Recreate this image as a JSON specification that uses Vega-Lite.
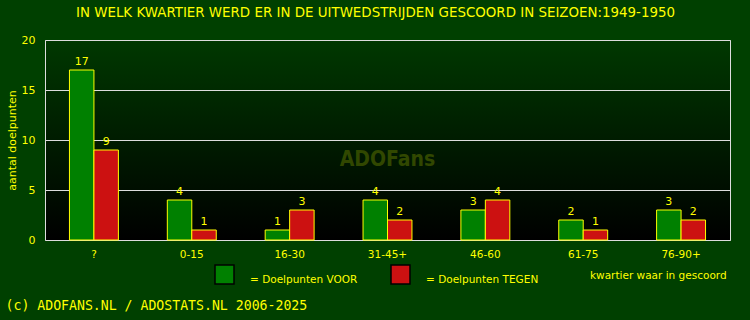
{
  "$schema": "https://vega.github.io/schema/vega-lite/v6.json",
  "width": 685,
  "height": 200,
  "autosize": {"type": "none"},
  "padding": {"left": 45, "top": 40, "right": 20, "bottom": 80},
  "background": "#004000",
  "title": {
    "text": "IN WELK KWARTIER WERD ER IN DE UITWEDSTRIJDEN GESCOORD IN SEIZOEN:1949-1950",
    "color": "#ffff00",
    "font": "DejaVu Sans",
    "fontSize": 13.4,
    "fontWeight": "normal",
    "anchor": "middle",
    "dx": -12,
    "offset": 15
  },
  "config": {
    "font": "DejaVu Sans",
    "view": {
      "stroke": "#dddddd",
      "strokeWidth": 1,
      "fill": {
        "gradient": "linear",
        "x1": 0, "y1": 0, "x2": 0, "y2": 1,
        "stops": [
          {"offset": 0, "color": "#003800"},
          {"offset": 1, "color": "#000000"}
        ]
      }
    }
  },
  "datasets": {
    "goals": [
      {"kwartier": "?", "serie": "VOOR", "doelpunten": 17},
      {"kwartier": "?", "serie": "TEGEN", "doelpunten": 9},
      {"kwartier": "0-15", "serie": "VOOR", "doelpunten": 4},
      {"kwartier": "0-15", "serie": "TEGEN", "doelpunten": 1},
      {"kwartier": "16-30", "serie": "VOOR", "doelpunten": 1},
      {"kwartier": "16-30", "serie": "TEGEN", "doelpunten": 3},
      {"kwartier": "31-45+", "serie": "VOOR", "doelpunten": 4},
      {"kwartier": "31-45+", "serie": "TEGEN", "doelpunten": 2},
      {"kwartier": "46-60", "serie": "VOOR", "doelpunten": 3},
      {"kwartier": "46-60", "serie": "TEGEN", "doelpunten": 4},
      {"kwartier": "61-75", "serie": "VOOR", "doelpunten": 2},
      {"kwartier": "61-75", "serie": "TEGEN", "doelpunten": 1},
      {"kwartier": "76-90+", "serie": "VOOR", "doelpunten": 3},
      {"kwartier": "76-90+", "serie": "TEGEN", "doelpunten": 2}
    ],
    "watermark": [
      {"kwartier": "31-45+", "doelpunten": 8, "tekst": "ADOFans"}
    ]
  },
  "data": {"name": "goals"},
  "encoding": {
    "x": {
      "field": "kwartier",
      "type": "nominal",
      "sort": ["?", "0-15", "16-30", "31-45+", "46-60", "61-75", "76-90+"],
      "scale": {"paddingInner": 0.5, "paddingOuter": 0.25},
      "axis": {
        "labelAngle": 0,
        "labelColor": "#ffff00",
        "labelFontSize": 10.5,
        "labelPadding": 9,
        "ticks": false,
        "domain": false,
        "grid": false,
        "title": "(c) ADOFANS.NL / ADOSTATS.NL 2006-2025",
        "titleFont": "DejaVu Sans Mono",
        "titleFontSize": 13.2,
        "titleFontWeight": "normal",
        "titleColor": "#ffff00",
        "titleAnchor": "start",
        "titleAlign": "left",
        "titleBaseline": "alphabetic",
        "titleX": -40,
        "titleY": 69
      }
    },
    "y": {
      "field": "doelpunten",
      "type": "quantitative",
      "scale": {"domain": [0, 20], "nice": false},
      "axis": {
        "values": [0, 5, 10, 15, 20],
        "grid": true,
        "gridColor": "#dddddd",
        "gridOpacity": 1,
        "domain": false,
        "ticks": false,
        "labelPadding": 10,
        "labelColor": "#ffff00",
        "labelFontSize": 11,
        "title": "aantal doelpunten",
        "titleColor": "#ffff00",
        "titleFontSize": 11,
        "titleFontWeight": "normal",
        "titleX": -33,
        "titleY": 100,
        "titleAlign": "center",
        "titleBaseline": "middle"
      }
    }
  },
  "layer": [
    {
      "data": {"name": "watermark"},
      "mark": {
        "type": "text",
        "font": "DejaVu Sans Condensed, Liberation Sans, sans-serif",
        "fontWeight": "bold",
        "fontSize": 21,
        "color": "#5a7000",
        "opacity": 0.55,
        "baseline": "middle",
        "align": "center"
      },
      "encoding": {
        "text": {"field": "tekst", "type": "nominal"}
      }
    },
    {
      "mark": {"type": "bar", "stroke": "#ffff00", "strokeWidth": 1},
      "encoding": {
        "xOffset": {
          "field": "serie",
          "type": "nominal",
          "sort": ["VOOR", "TEGEN"],
          "scale": {"paddingInner": 0, "paddingOuter": 0}
        },
        "color": {
          "field": "serie",
          "type": "nominal",
          "scale": {"domain": ["VOOR", "TEGEN"], "range": ["#008000", "#cc1111"]},
          "legend": {
            "orient": "none",
            "legendX": 169,
            "legendY": 224,
            "direction": "horizontal",
            "symbolType": "square",
            "symbolSize": 361,
            "symbolStrokeColor": "#000000",
            "symbolStrokeWidth": 1.5,
            "symbolOpacity": 1,
            "labelExpr": "'= Doelpunten ' + datum.label",
            "labelColor": "#ffff00",
            "labelFontSize": 10.5,
            "labelBaseline": "top",
            "labelOffset": 15,
            "columnPadding": 30,
            "title": "kwartier waar in gescoord",
            "titleOrient": "right",
            "titlePadding": 52,
            "titleColor": "#ffff00",
            "titleFontSize": 10.5,
            "titleFontWeight": "normal"
          }
        }
      }
    },
    {
      "mark": {"type": "text", "color": "#ffff00", "baseline": "bottom", "dy": -3, "fontSize": 11},
      "encoding": {
        "xOffset": {
          "field": "serie",
          "type": "nominal",
          "sort": ["VOOR", "TEGEN"],
          "scale": {"paddingInner": 0, "paddingOuter": 0}
        },
        "text": {"field": "doelpunten", "type": "quantitative"}
      }
    }
  ]
}
